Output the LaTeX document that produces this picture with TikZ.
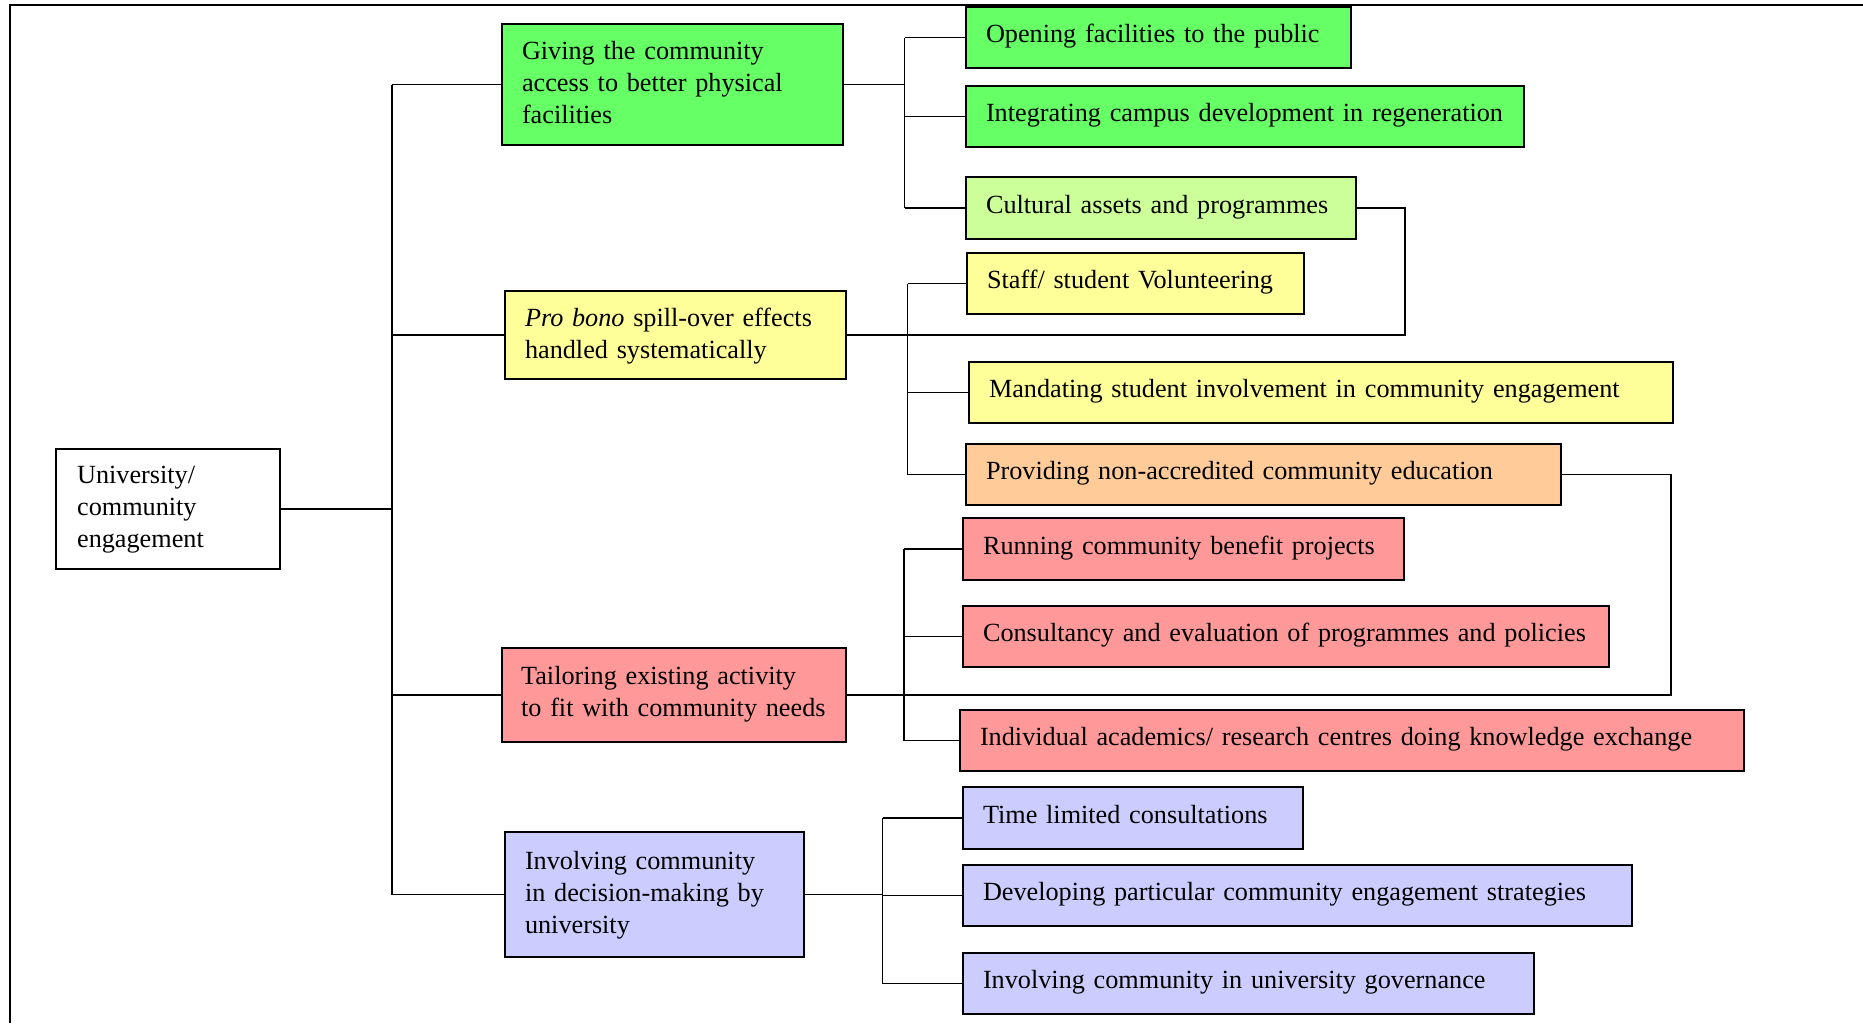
\documentclass[tikz,border=0pt]{standalone}
\usepackage{fontspec}
\setmainfont{Liberation Serif}
\hyphenpenalty=10000
\exhyphenpenalty=10000
\definecolor{grn}{HTML}{66FF66}
\definecolor{lgrn}{HTML}{CCFF99}
\definecolor{yel}{HTML}{FFFF99}
\definecolor{org}{HTML}{FFCC99}
\definecolor{rd}{HTML}{FF9999}
\definecolor{lav}{HTML}{CCCCFF}
\begin{document}
\begin{tikzpicture}[x=0.45pt, y=-0.45pt,
  box/.style={draw=black, line width=0.7pt, inner xsep=9pt, inner ysep=0pt,
    align=left, font=\fontsize{11.8}{14.4}\selectfont},
  leaf/.style={box, text height=8.1pt, text depth=3.2pt},
  link/.style={draw=black, line width=0.6pt},
  frameline/.style={draw=black, line width=0.9pt}]
\useasboundingbox (0,0) rectangle (1863,1023);

% outer frame (open to the right and bottom)
\draw[frameline] (10,1023) -- (10,5) -- (1863,5);

% root
\node[box, fill=white, inner xsep=9.5pt, minimum height=54pt, text width=81.8pt,
  text depth=30.4pt]
  (root) at (168,509) {University/\\community\\engagement};

% first level
\node[box, fill=grn, minimum height=54.45pt, text width=135.45pt, text depth=30.8pt]
  (a) at (672.5,84.5) {Giving the community\\access to better physical\\facilities};
\node[box, fill=yel, minimum height=39.6pt, text width=135.45pt, text depth=16.3pt]
  (b) at (675.5,335) {\textit{Pro bono} spill-over effects\\handled systematically};
\node[box, fill=rd, inner xsep=8.6pt, minimum height=42.3pt, text width=137.6pt,
  text depth=17.9pt]
  (c) at (674,695) {Tailoring existing activity\\to fit with community needs};
\node[box, fill=lav, minimum height=56.25pt, text width=116.55pt, text depth=30.8pt]
  (d) at (654.5,894.5) {Involving community\\in decision-making by\\university};

% second level
\node[leaf, fill=grn, minimum height=27.45pt, text width=155.25pt]
  (o1) at (1158.5,37.5) {Opening facilities to the public};
\node[leaf, fill=grn, minimum height=27.45pt, text width=233.1pt]
  (o2) at (1245,116.5) {Integrating campus development in regeneration};
\node[leaf, fill=lgrn, minimum height=27.9pt, text width=157.5pt]
  (o3) at (1161,208) {Cultural assets and programmes};
\node[leaf, fill=yel, minimum height=27.45pt, text width=133.65pt]
  (o4) at (1135.5,283.5) {Staff/ student Volunteering};
\node[leaf, fill=yel, minimum height=27.45pt, text width=298.8pt]
  (o5) at (1321,392.5) {Mandating student involvement in community engagement};
\node[leaf, fill=org, minimum height=27.45pt, text width=249.75pt]
  (o6) at (1263.5,474.5) {Providing non-accredited community education};
\node[leaf, fill=rd, minimum height=27.9pt, text width=180.45pt]
  (o7) at (1183.5,549) {Running community benefit projects};
\node[leaf, fill=rd, minimum height=27.45pt, text width=272.7pt]
  (o8) at (1286,636.5) {Consultancy and evaluation of programmes and policies};
\node[leaf, fill=rd, minimum height=27.45pt, text width=334.8pt]
  (o9) at (1352,740.5) {Individual academics/ research centres doing knowledge exchange};
\node[leaf, fill=lav, minimum height=27.9pt, text width=135pt]
  (o10) at (1133,818) {Time limited consultations};
\node[leaf, fill=lav, minimum height=27.45pt, text width=283.05pt]
  (o11) at (1297.5,895.5) {Developing particular community engagement strategies};
\node[leaf, fill=lav, minimum height=27.45pt, text width=238.95pt]
  (o12) at (1248.5,983.5) {Involving community in university governance};

% bar positions
\coordinate (t) at (392,0);
\coordinate (ba) at (904.5,0);
\coordinate (bb) at (907.5,0);
\coordinate (kb) at (1405,0);
\coordinate (bc) at (904,0);
\coordinate (kc) at (1671,0);
\coordinate (bd) at (882.6,0);

% root to first level
\draw[link] (root.east) -- (t |- root.east);
\draw[link] (t |- a.west) -- (t |- d.west);
\foreach \n in {a,b,c,d} \draw[link] (t |- \n.west) -- (\n.west);

% facilities branch
\draw[link] (a.east) -- (ba |- a.east);
\draw[link] (ba |- o1.west) -- (ba |- o3.west);
\foreach \n in {o1,o2,o3} \draw[link] (ba |- \n.west) -- (\n.west);

% pro bono branch
\draw[link] (b.east) -- (kb |- b.east) -- (kb |- o3.east) -- (o3.east);
\draw[link] (bb |- o4.west) -- (bb |- o6.west);
\foreach \n in {o4,o5,o6} \draw[link] (bb |- \n.west) -- (\n.west);

% tailoring branch
\draw[link] (c.east) -- (kc |- c.east) -- (kc |- o6.east) -- (o6.east);
\draw[link] (bc |- o7.west) -- (bc |- o9.west);
\foreach \n in {o7,o8,o9} \draw[link] (bc |- \n.west) -- (\n.west);

% decision-making branch
\draw[link] (d.east) -- (bd |- d.east);
\draw[link] (bd |- o10.west) -- (bd |- o12.west);
\foreach \n in {o10,o11,o12} \draw[link] (bd |- \n.west) -- (\n.west);
\end{tikzpicture}
\end{document}
